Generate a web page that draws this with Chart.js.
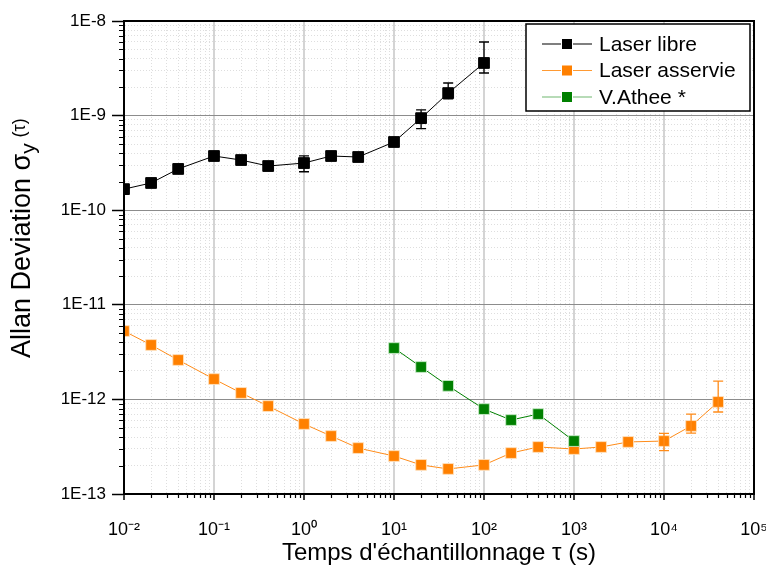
<!DOCTYPE html>
<html>
<head>
<meta charset="utf-8">
<title>Allan Deviation</title>
<script src="https://cdn.jsdelivr.net/npm/chart.js@4/dist/chart.umd.min.js"></script>
<style>
	html, body { margin: 0; padding: 0; background: #fff; }
</style>
</head>
<body>
<canvas id="myChart" width="766" height="569"></canvas>
<script>
// tau (s) and Allan deviation values
const tauLibre = [0.01, 0.02, 0.04, 0.1, 0.2, 0.4, 1, 2, 4, 10, 20, 40, 100];
const adevLibre = [1.67e-10, 1.94e-10, 2.73e-10, 3.74e-10, 3.39e-10, 2.93e-10, 3.15e-10, 3.74e-10, 3.65e-10, 5.26e-10, 9.4e-10, 1.73e-9, 3.6e-9];
const libreErrUp = [null, null, null, null, null, null, 0.6e-10, null, null, null, 0.21e-9, 0.48e-9, 2.4e-9];
const libreErrDown = [null, null, null, null, null, null, 0.6e-10, null, null, null, 0.21e-9, 0.23e-9, 0.78e-9];

const tauAsservie = [0.01, 0.02, 0.04, 0.1, 0.2, 0.4, 1, 2, 4, 10, 20, 40, 100, 200, 400, 1000, 2000, 4000, 10000, 20000, 40000];
const adevAsservie = [5.28e-12, 3.76e-12, 2.61e-12, 1.64e-12, 1.17e-12, 8.5e-13, 5.5e-13, 4.1e-13, 3.06e-13, 2.52e-13, 2.03e-13, 1.84e-13, 2.03e-13, 2.71e-13, 3.14e-13, 2.99e-13, 3.14e-13, 3.55e-13, 3.63e-13, 5.24e-13, 9.4e-13];
const asservieErrUp = [null, null, null, null, null, null, null, null, null, null, null, null, null, null, null, null, null, null, 0.75e-13, 1.76e-13, 6.2e-13];
const asservieErrDown = [null, null, null, null, null, null, null, null, null, null, null, null, null, null, null, null, null, null, 0.75e-13, 0.84e-13, 2.04e-13];

const tauAthee = [10, 20, 40, 100, 200, 400, 1000];
const adevAthee = [3.49e-12, 2.2e-12, 1.39e-12, 7.9e-13, 6.05e-13, 7.0e-13, 3.63e-13];

const seriesNames = ['Laser libre', 'Laser asservie', 'V.Athee *'];

// axis decades and their labels
const xExponents = [-2, -1, 0, 1, 2, 3, 4, 5];
const xTickLabels = ['10⁻²', '10⁻¹', '10⁰', '10¹', '10²', '10³', '10⁴', '10⁵'];
const yExponents = [-13, -12, -11, -10, -9, -8];
const yTickLabels = ['1E-13', '1E-12', '1E-11', '1E-10', '1E-9', '1E-8'];

const FONT = "'Liberation Sans', Arial, sans-serif";

function toPoints(xs, ys) {
	return xs.map((x, i) => ({x: x, y: ys[i]}));
}

// 1..9 ticks for each decade, the 1's being major
function logTicks(exps) {
	let ticks = [];
	for (let i = 0; i < exps.length - 1; i++) {
		for (let k = 1; k <= 9; k++) {
			ticks.push({value: Number((k * Math.pow(10, exps[i])).toPrecision(12)), major: k == 1});
		}
	}
	ticks.push({value: Math.pow(10, exps[exps.length - 1]), major: true});
	return ticks;
}

function decadeLabel(exps, labels) {
	return function(value, index, ticks) {
		if (!ticks[index].major) return '';
		const e = Math.round(Math.log10(value));
		return labels[exps.indexOf(e)];
	};
}

const isMajor = c => c.tick && c.tick.major;

// error bars
const errorBars = {
	id: 'errorBars',
	afterDatasetsDraw(chart) {
		const ctx = chart.ctx;
		const xs = chart.scales.x, ys = chart.scales.y;
		chart.data.datasets.forEach(ds => {
			if (!ds.errUp) return;
			ctx.save();
			ctx.strokeStyle = ds.borderColor;
			ctx.lineWidth = 1.3;
			ds.data.forEach((p, i) => {
				const up = ds.errUp[i], dn = ds.errDown[i];
				if (up == null) return;
				const px = xs.getPixelForValue(p.x);
				const top = ys.getPixelForValue(p.y + up);
				const bot = ys.getPixelForValue(p.y - dn);
				ctx.beginPath();
				ctx.moveTo(px, top); ctx.lineTo(px, bot);
				ctx.moveTo(px - 5, top); ctx.lineTo(px + 5, top);
				ctx.moveTo(px - 5, bot); ctx.lineTo(px + 5, bot);
				ctx.stroke();
			});
			ctx.restore();
		});
	}
};

// frame, short minor ticks, legend box and y title
const decorations = {
	id: 'decorations',
	afterDraw(chart) {
		const ctx = chart.ctx;
		const a = chart.chartArea;
		const xs = chart.scales.x, ys = chart.scales.y;
		ctx.save();
		ctx.strokeStyle = '#000';
		ctx.lineWidth = 2;
		ctx.strokeRect(a.left, a.top, a.right - a.left, a.bottom - a.top);

		// minor ticks, shorter than the major ones
		ctx.lineWidth = 1.2;
		ctx.beginPath();
		xs.ticks.forEach(t => {
			if (t.major) return;
			const px = Math.round(xs.getPixelForValue(t.value)) + 0.5;
			ctx.moveTo(px, a.bottom); ctx.lineTo(px, a.bottom + 4);
		});
		ys.ticks.forEach(t => {
			if (t.major) return;
			const py = Math.round(ys.getPixelForValue(t.value)) + 0.5;
			ctx.moveTo(a.left, py); ctx.lineTo(a.left - 5, py);
		});
		ctx.stroke();

		// legend
		const w = 224, h = 87;
		const lx = a.right - 4 - w, ly = a.top + 3;
		ctx.fillStyle = '#fff';
		ctx.fillRect(lx, ly, w, h);
		ctx.lineWidth = 1.5;
		ctx.strokeRect(lx, ly, w, h);
		ctx.font = '21px ' + FONT;
		ctx.textBaseline = 'middle';
		chart.data.datasets.forEach((ds, i) => {
			const cy = ly + 20 + i * 26.5;
			ctx.strokeStyle = ds.legendLine;
			ctx.lineWidth = 1.2;
			ctx.beginPath();
			ctx.moveTo(lx + 16, cy); ctx.lineTo(lx + 35, cy);
			ctx.moveTo(lx + 47, cy); ctx.lineTo(lx + 66, cy);
			ctx.stroke();
			ctx.fillStyle = ds.backgroundColor;
			ctx.fillRect(lx + 36, cy - 5, 10, 10);
			ctx.fillStyle = '#000';
			ctx.fillText(ds.label, lx + 73, cy + 1);
		});

		// y axis title with subscript
		ctx.translate(30, 358);
		ctx.rotate(-Math.PI / 2);
		ctx.fillStyle = '#000';
		ctx.textBaseline = 'alphabetic';
		ctx.textAlign = 'left';
		ctx.font = '27px ' + FONT;
		const main = 'Allan Deviation σ';
		ctx.fillText(main, 0, 0);
		let x = ctx.measureText(main).width;
		ctx.font = '21px ' + FONT;
		ctx.fillText('y', x, 5);
		x += ctx.measureText('y ').width;
		ctx.font = '18px ' + FONT;
		ctx.fillText('(τ)', x, -5);
		ctx.restore();
	}
};

const gridDash = c => (c.tick && !c.tick.major) ? [1, 2] : [];

let ctx = document.getElementById('myChart').getContext('2d');
let myChart = new Chart(ctx, {
	type: 'line',
	data: {
		datasets: [{
			label: seriesNames[0],
			data: toPoints(tauLibre, adevLibre),
			errUp: libreErrUp,
			errDown: libreErrDown,
			borderColor: '#000000',
			backgroundColor: '#000000',
			legendLine: '#000000',
			pointBorderColor: '#000000',
			borderWidth: 1,
			order: 1
		}, {
			label: seriesNames[1],
			data: toPoints(tauAsservie, adevAsservie),
			errUp: asservieErrUp,
			errDown: asservieErrDown,
			borderColor: '#ff8c1a',
			backgroundColor: '#ff8000',
			legendLine: '#ff9a33',
			pointBorderColor: 'rgba(255,225,190,0.9)',
			borderWidth: 1,
			order: 3
		}, {
			label: seriesNames[2],
			data: toPoints(tauAthee, adevAthee),
			borderColor: '#008000',
			backgroundColor: '#008000',
			legendLine: '#70b870',
			pointBorderColor: 'rgba(200,235,200,0.9)',
			borderWidth: 1,
			order: 2
		}]
	},
	plugins: [errorBars, decorations],
	options: {
		responsive: false,
		animation: false,
		layout: { padding: { top: 21, right: 12, left: 0, bottom: 0 } },
		elements: {
			line: { tension: 0 },
			point: { pointStyle: 'rect', radius: 7.6, borderWidth: 1 }
		},
		plugins: {
			legend: { display: false },
			tooltip: { enabled: false }
		},
		scales: {
			x: {
				type: 'logarithmic',
				min: 0.01,
				max: 1e5,
				afterBuildTicks: scale => { scale.ticks = logTicks(xExponents); },
				afterFit: scale => {
					scale.height = 75;
					scale.paddingLeft = 0;
					scale.paddingRight = 0;
				},
				grid: {
					color: c => isMajor(c) ? '#d4d4d4' : '#dedede',
					lineWidth: c => isMajor(c) ? 2 : 1,
					tickColor: c => isMajor(c) ? '#000' : 'rgba(0,0,0,0)',
					tickWidth: 1.5,
					tickLength: 6
				},
				border: { color: '#000', width: 2, dash: gridDash },
				ticks: {
					autoSkip: false,
					maxRotation: 0,
					padding: 19,
					color: '#000',
					font: { family: FONT, size: 18 },
					callback: decadeLabel(xExponents, xTickLabels)
				},
				title: {
					display: true,
					text: "Temps d'échantillonnage τ (s)",
					color: '#000',
					font: { family: FONT, size: 24 },
					padding: { top: 0, bottom: 1 }
				}
			},
			y: {
				type: 'logarithmic',
				min: 1e-13,
				max: 1e-8,
				afterBuildTicks: scale => { scale.ticks = logTicks(yExponents); },
				afterFit: scale => {
					scale.width = 124;
					scale.paddingTop = 0;
					scale.paddingBottom = 0;
				},
				grid: {
					color: c => isMajor(c) ? '#8c8c8c' : '#dedede',
					lineWidth: 1,
					tickColor: c => isMajor(c) ? '#000' : 'rgba(0,0,0,0)',
					tickWidth: 1.5,
					tickLength: 12
				},
				border: { color: '#000', width: 2, dash: gridDash },
				ticks: {
					autoSkip: false,
					padding: 6,
					color: '#000',
					font: { family: FONT, size: 17 },
					callback: decadeLabel(yExponents, yTickLabels)
				}
			}
		}
	}
});
</script>
</body>
</html>
